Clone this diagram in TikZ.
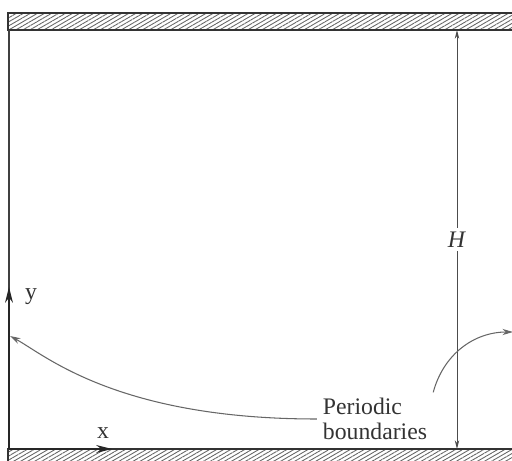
\documentclass[tikz,border=0pt]{standalone}
\usepackage{fontspec}
\setmainfont{Liberation Serif}
\usetikzlibrary{positioning, arrows.meta, patterns.meta}

\begin{document}
\begin{tikzpicture}[
        x=0.02cm, y=0.02cm,
        wall/.style={draw=black!80, line width=0.8pt, pattern={Lines[angle=30, distance=2pt, line width=0.5pt]}, pattern color=black!60},
        bound/.style={draw=black!75, line width=0.7pt},
        axisarr/.style={-{Stealth[length=9pt, width=4.5pt]}, line width=0.8pt, black!85},
        dimarr/.style={{Stealth[length=5pt, width=2.5pt]}-{Stealth[length=5pt, width=2.5pt]}, line width=0.5pt, black!70},
        arr/.style={-{Stealth[length=6pt, width=3.5pt]}, line width=0.6pt, black!60},
        lbl/.style={font=\fontsize{13.5}{13.8}\selectfont, text=black!80, align=left},
    ]
        \useasboundingbox (0,0) rectangle (512,461);
        \clip (0,0) rectangle (512,461);

        % Walls (top and bottom)
        \draw[wall] (8,431) rectangle (530,448);
        \draw[wall] (8,-20) rectangle (530,12);

        % Left boundary and axes
        \coordinate (O) at (9,12);
        \coordinate (topleft) at (9,431);
        \draw[bound] (O) -- (topleft);
        \coordinate (ytip) at (9,174);
        \coordinate (xtip) at (112,12);
        \draw[axisarr] (O) -- (ytip);
        \draw[axisarr] (O) -- (xtip);
        \node[lbl] (ylab) at (31,164) {y};
        \node[lbl] (xlab) at (103,28) {x};

        % Channel height
        \coordinate (htop) at (457,431);
        \coordinate (hbot) at (457,12);
        \draw[dimarr] (htop) -- (hbot) node[midway, fill=white, inner sep=2pt, lbl] (hlab) {\textit{H}};

        % Periodic boundaries label
        \node[lbl] (pb) at (375,42) {Periodic\\boundaries};
        \coordinate (lb) at (10,125);
        \coordinate (rb) at (513,129);
        \draw[arr] (pb.west) .. controls +(-200,0) and +(35,-19) .. (lb);
        \draw[arr] (pb.north east) to[out=75, in=180] (rb);
    \end{tikzpicture}
\end{document}
